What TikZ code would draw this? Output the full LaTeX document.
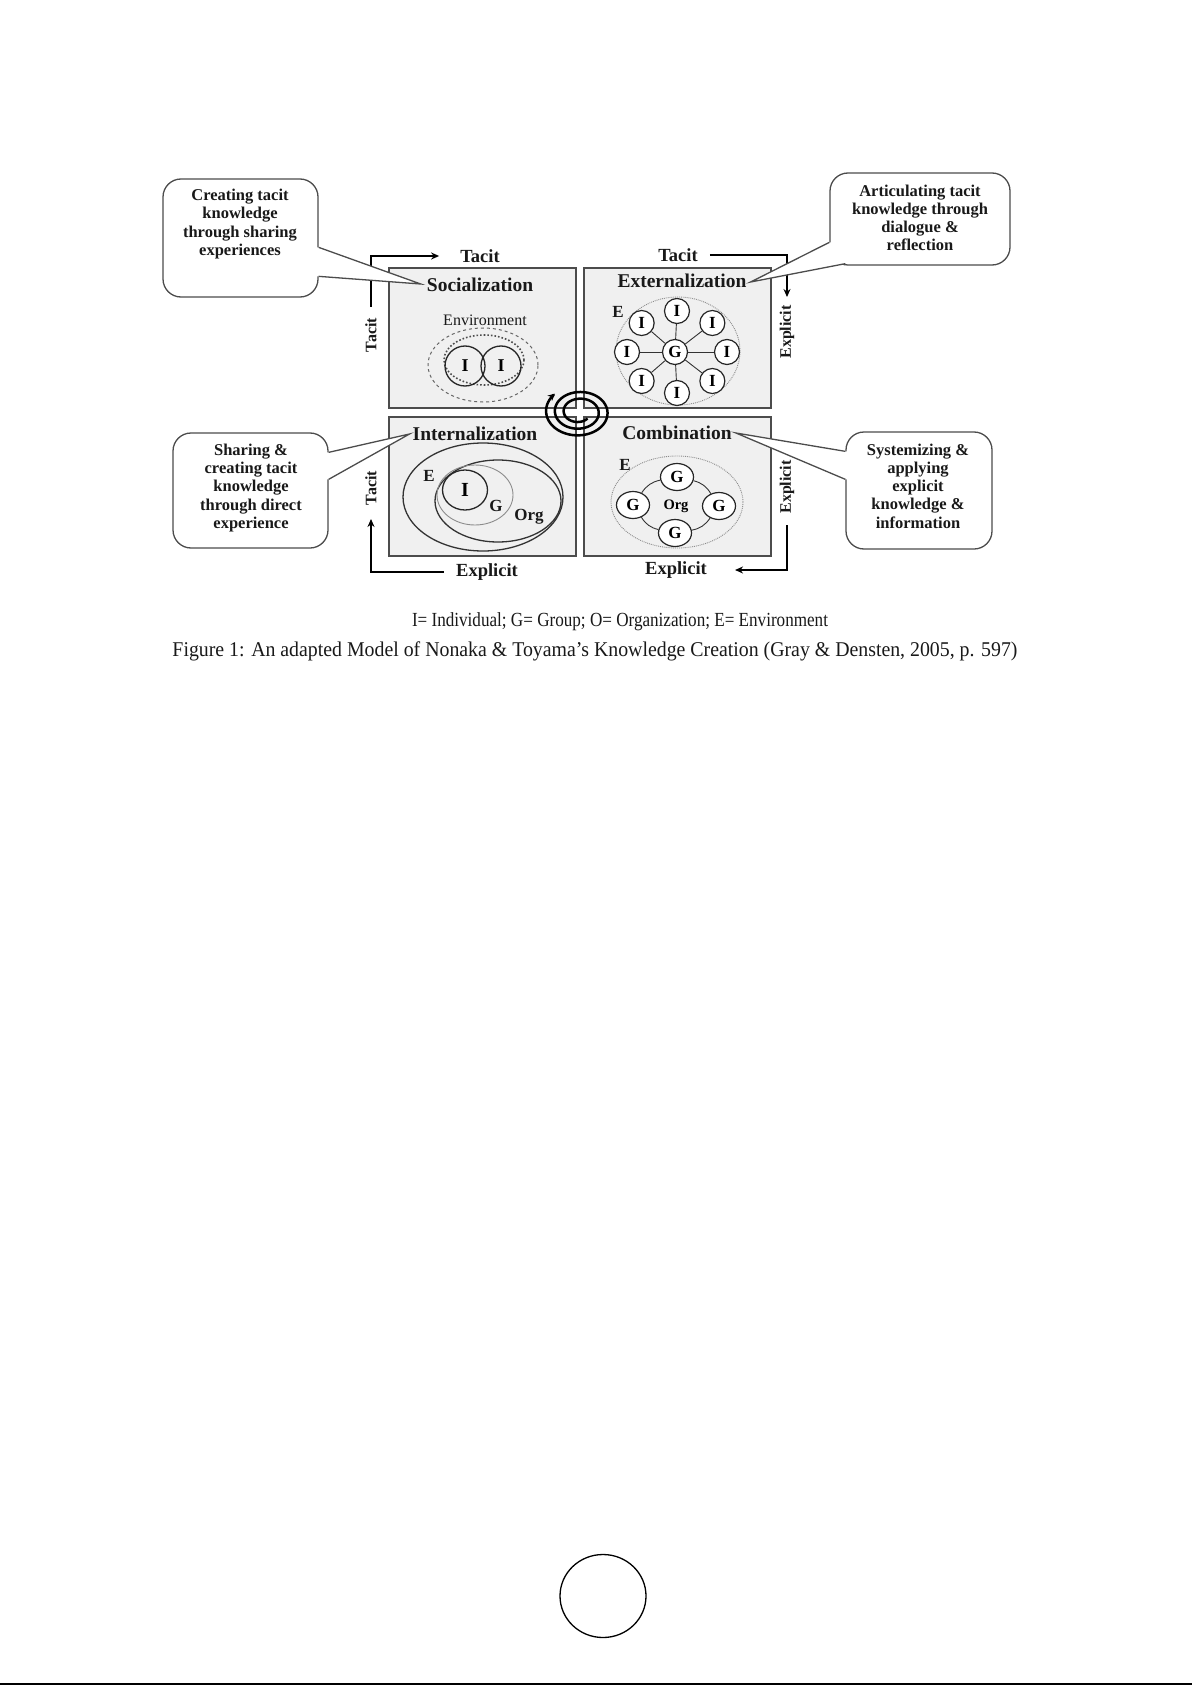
\documentclass[tikz,border=0pt]{standalone}
\usepackage{fontspec}
\setmainfont{Liberation Serif}
\usetikzlibrary{calc,arrows.meta,shapes.geometric}
\begin{document}
\begin{tikzpicture}[x=1pt,y=-1pt,
  quad/.style={draw=black!70,line width=1.6pt,fill=black!6,minimum width=187pt,minimum height=140pt,anchor=north west,inner sep=0pt},
  callout/.style={draw=black!70,line width=1.3pt,fill=white,rounded corners=18pt,inner sep=0pt},
  ctext/.style={align=center,font=\bfseries\fontsize{16.5}{18.2}\selectfont,inner sep=0pt,text=black!90},
  qtitle/.style={font=\bfseries\fontsize{19.5}{22}\selectfont,inner sep=0pt,text=black!90},
  haxis/.style={font=\bfseries\fontsize{18.5}{20}\selectfont,inner sep=0pt,text=black!90},
  vaxis/.style={font=\bfseries\fontsize{16}{18}\selectfont,rotate=90,inner sep=0pt,text=black!90},
  flow/.style={line width=1.8pt,-{Stealth[length=8pt,width=7pt]}},
  tail/.style={draw=black!70,line width=1.3pt},
  lbl/.style={font=\bfseries\fontsize{17}{18}\selectfont,inner sep=0pt,text=black!90},
  smallI/.style={draw=black!85,line width=1.2pt,fill=white,circle,minimum size=25pt,inner sep=0pt,font=\bfseries\fontsize{17}{18}\selectfont},
  bigI/.style={draw=black!85,line width=1.3pt,circle,minimum size=40pt,inner sep=0pt,font=\bfseries\fontsize{18}{20}\selectfont},
  gnode/.style={draw=black!85,line width=1.2pt,fill=white,ellipse,minimum width=33pt,minimum height=27pt,inner sep=0pt,font=\bfseries\fontsize{17}{18}\selectfont},
  spoke/.style={draw=black!80,line width=0.9pt},
  envdot/.style={draw=black!45,line width=0.9pt,densely dotted}
]
\useasboundingbox (0,0) rectangle (1192,1685);
\fill[white] (0,0) rectangle (1192,1685);

% quadrants
\node[quad] (soc) at (388,267) {};
\node[quad] (ext) at (583,267) {};
\node[quad,minimum height=139pt] (int) at (388,416) {};
\node[quad,minimum height=139pt] (com) at (583,416) {};

% titles
\node[qtitle] (soct) at (480,285) {Socialization};
\node[qtitle] (extt) at (682,281) {Externalization};
\node[qtitle] (intt) at (475,434) {Internalization};
\node[qtitle] (comt) at (677,433) {Combination};

% ---- Socialization content
\node[font=\fontsize{16}{18}\selectfont,inner sep=0pt,text=black!90] (envt) at (485,320) {Environment};
\draw[black!60,line width=1pt,dashed] (483,365) ellipse [x radius=55pt,y radius=37pt];
\draw[black!70,line width=1.6pt,dotted] (484,360) ellipse [x radius=40pt,y radius=25pt];
\node[bigI] (sI1) at (465,366) {I};
\node[bigI] (sI2) at (501,366) {I};

% ---- Externalization content
\draw[envdot] (678,351) ellipse [x radius=62pt,y radius=54pt];
\node[lbl] (xE) at (618,312) {E};
\node[smallI] (xg) at (675,352) {G};
\foreach \a [count=\i] in {0,45,...,315}
  \node[smallI] (xi\i) at ({677+50*cos(\a)},{352+41*sin(\a)}) {I};
\foreach \i in {1,...,8}
  \draw[spoke] (xg) -- (xi\i);

% ---- Internalization content
\draw[black!80,line width=1.3pt] (483,497) ellipse [x radius=80pt,y radius=54pt];
\draw[black!80,line width=1.3pt] (498,501) ellipse [x radius=63pt,y radius=41pt];
\draw[black!45,line width=0.9pt] (475,495) ellipse [x radius=38pt,y radius=30pt];
\node[draw=black!85,line width=1.3pt,ellipse,minimum width=45pt,minimum height=40pt,inner sep=0pt,font=\bfseries\fontsize{20}{22}\selectfont] (iI) at (465,490) {I};
\node[lbl] (iE) at (429,476) {E};
\node[lbl] (iG) at (496,506) {G};
\node[lbl] (iO) at (529,517) {Org};

% ---- Combination content
\draw[envdot] (677,502) ellipse [x radius=66pt,y radius=46pt];
\node[lbl] (cE) at (625,465) {E};
\node[font=\bfseries\fontsize{14.5}{16}\selectfont,inner sep=0pt] (cO) at (676,506) {Org};
\node[gnode] (cgT) at (677,477) {G};
\node[gnode] (cgL) at (633,505) {G};
\node[gnode] (cgR) at (719,506) {G};
\node[gnode] (cgB) at (675,533) {G};
\draw[spoke] (cgT) to[bend right=22] (cgL);
\draw[spoke] (cgL) to[bend right=22] (cgB);
\draw[spoke] (cgB) to[bend right=22] (cgR);
\draw[spoke] (cgR) to[bend right=22] (cgT);

% ---- axis labels and flows
\node[haxis] (taL) at (480,256) {Tacit};
\node[haxis] (taR) at (678,255) {Tacit};
\node[haxis] (exL) at (487,572) {Explicit};
\node[haxis] (exR) at (676,570) {Explicit};
\node[vaxis] (vt1) at (371,335) {Tacit};
\node[vaxis] (ve1) at (787,332) {Explicit};
\node[vaxis] (vt2) at (371,488) {Tacit};
\node[vaxis] (ve2) at (787,487) {Explicit};

\coordinate (f1s) at (371,307);
\draw[flow] (f1s) |- ($(taL.west)+(-21,0)$);
\coordinate (f2e) at (787,297);
\draw[flow] ($(taR.east)+(12,0)$) -| (f2e);
\coordinate (f3e) at (371,519);
\draw[flow] ($(exL.west)+(-12,0)$) -| (f3e);
\coordinate (f4s) at (787,525);
\draw[flow] (f4s) |- ($(exR.east)+(28,0)$);

% ---- spiral
\draw[black,line width=2.5pt,-{Stealth[length=7pt,width=7pt]}]
  plot[domain=-675:225,samples=200,smooth]
  ({579+(12+(\x+675)/900*22)*cos(\x)},{412+0.76*(12+(\x+675)/900*22)*sin(\x)});

% ---- callouts
\node[callout,minimum width=155pt,minimum height=118pt] (c1) at (240.5,238) {};
\node[ctext] (t1) at (240,224) {Creating tacit\\knowledge\\through sharing\\experiences};
\coordinate (c1a) at ($(c1.north east)+(0,69)$);
\coordinate (c1b) at ($(c1.north east)+(0,98)$);
\coordinate (p1) at ($(soct.west)+(-6,-1)$);
\fill[white] (p1) -- (c1a) -- ($(c1a)+(-3,0)$) -- ($(c1b)+(-3,0)$) -- (c1b) -- cycle;
\draw[tail] (c1a) -- (p1) -- (c1b);

\node[callout,minimum width=180pt,minimum height=92pt] (c2) at (920,219) {};
\node[ctext] (t2) at (920,218) {Articulating tacit\\knowledge through\\dialogue \&\\reflection};
\coordinate (c2a) at ($(c2.north west)+(0,70)$);
\coordinate (c2b) at ($(c2.south west)+(16,-2)$);
\coordinate (p2) at ($(extt.east)+(4,1)$);
\fill[white] (p2) -- (c2a) -- ($(c2a)+(3,0)$) -- ($(c2b)+(2,-3)$) -- (c2b) -- cycle;
\draw[tail] (c2a) -- (p2) -- (c2b);

\node[callout,minimum width=155pt,minimum height=115pt] (c3) at (250.5,490.5) {};
\node[ctext] (t3) at (251,488) {Sharing \&\\creating tacit\\knowledge\\through direct\\experience};
\coordinate (c3a) at ($(c3.north east)+(0,20)$);
\coordinate (c3b) at ($(c3.north east)+(0,47)$);
\coordinate (p3) at ($(intt.west)+(-3,0)$);
\fill[white] (p3) -- (c3a) -- ($(c3a)+(-3,0)$) -- ($(c3b)+(-3,0)$) -- (c3b) -- cycle;
\draw[tail] (c3a) -- (p3) -- (c3b);

\node[callout,minimum width=146pt,minimum height=117pt] (c4) at (919,490.5) {};
\node[ctext] (t4) at (918,486) {Systemizing \&\\applying\\explicit\\knowledge \&\\information};
\coordinate (c4a) at ($(c4.north west)+(0,20)$);
\coordinate (c4b) at ($(c4.north west)+(0,48)$);
\coordinate (p4) at ($(comt.east)+(4,0)$);
\fill[white] (p4) -- (c4a) -- ($(c4a)+(3,0)$) -- ($(c4b)+(3,0)$) -- (c4b) -- cycle;
\draw[tail] (c4a) -- (p4) -- (c4b);

% ---- legend and caption
\node[inner sep=0pt,text=black!90] (legend) at (620,622)
  {\resizebox{416pt}{\height}{\fontsize{20}{22}\selectfont I= Individual; G= Group; O= Organization; E= Environment}};
\node[inner sep=0pt,text=black!90] (caption) at (595,651)
  {\resizebox{845pt}{\height}{\fontsize{21}{23}\selectfont Figure 1: An adapted Model of Nonaka \& Toyama’s Knowledge Creation (Gray \& Densten, 2005, p. 597)}};

% ---- page number circle and bottom rule
\draw[black,line width=1.3pt] (603,1596) ellipse [x radius=43pt,y radius=41.5pt];
\draw[black,line width=2pt] (0,1684) -- (1192,1684);
\end{tikzpicture}
\end{document}
